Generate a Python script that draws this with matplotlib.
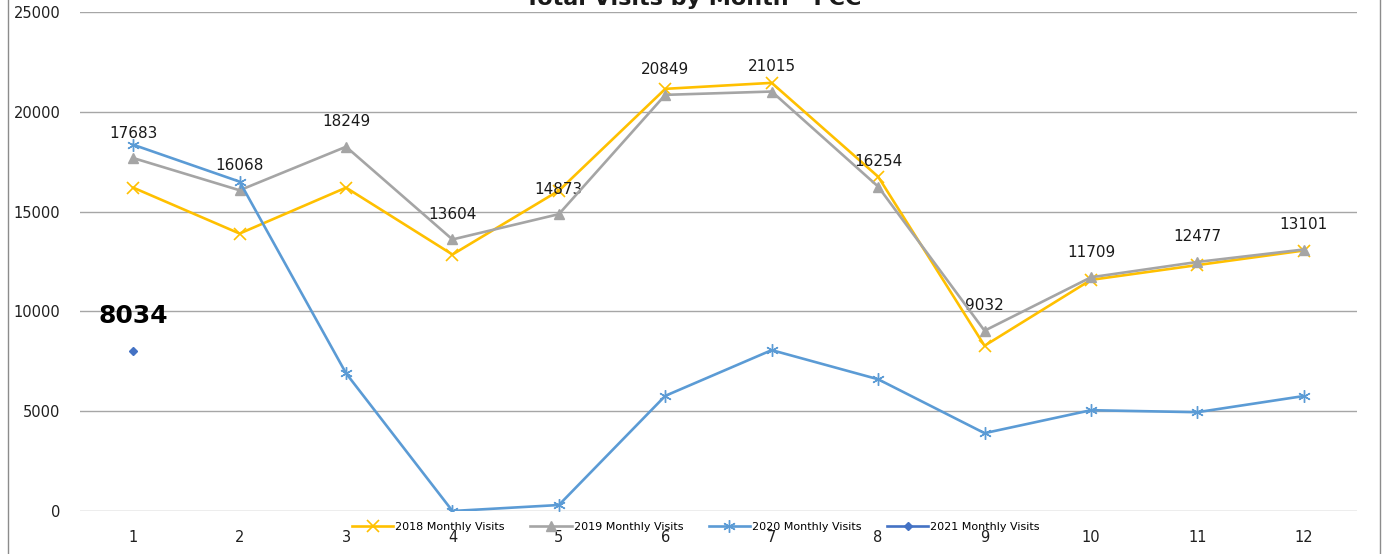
import matplotlib.pyplot as plt
from matplotlib.lines import Line2D

# data
months = [1, 2, 3, 4, 5, 6, 7, 8, 9, 10, 11, 12]
visits_2018 = [16200, 13900, 16200, 12850, 16050, 21150, 21450, 16750, 8280, 11580, 12320, 13050]
visits_2019 = [17683, 16068, 18249, 13604, 14873, 20849, 21015, 16254, 9032, 11709, 12477, 13101]
visits_2020 = [18350, 16500, 6900, 0, 300, 5770, 8060, 6600, 3900, 5050, 4950, 5760]
months_2021 = [1]
visits_2021 = [8034]

yticks = [0, 5000, 10000, 15000, 20000, 25000]

fig = plt.figure(figsize=(13.86, 5.54), dpi=100)
ax = fig.add_axes([80 / 1386, 1 - 511 / 554, (1357 - 80) / 1386, (511 - 12) / 554])

ax.plot(months, visits_2018, color='#FFC000', lw=1.9, marker='x', ms=8, mew=1.2,
        label='2018 Monthly Visits', zorder=3)
ax.plot(months, visits_2019, color='#A5A5A5', lw=1.9, marker='^', ms=7,
        label='2019 Monthly Visits', zorder=4)
ax.plot(months, visits_2020, color='#5B9BD5', lw=1.9, marker=(6, 2, 0), ms=9, mew=1.0,
        label='2020 Monthly Visits', zorder=5)
ax.plot(months_2021, visits_2021, color='#4472C4', lw=1.9, marker='D', ms=4,
        label='2021 Monthly Visits', zorder=6)

for m, v in zip(months, visits_2019):
    ax.annotate(str(v), (m, v), xytext=(0, 18), textcoords='offset points',
                ha='center', va='center', fontsize=11, color='#1a1a1a')
for m, v in zip(months_2021, visits_2021):
    ax.annotate(str(v), (m, v), xytext=(0, 25), textcoords='offset points',
                ha='center', va='center', fontsize=18, weight='bold', color='black')

ax.set_xlim(0.5, 12.5)
ax.set_ylim(0, 25000)
ax.set_xticks(months)
ax.set_yticks(yticks)
ax.tick_params(axis='both', length=0, labelsize=10.5, colors='#1f1f1f')
ax.tick_params(axis='y', pad=14)
ax.tick_params(axis='x', pad=14)
ax.grid(axis='y', color='#A6A6A6', lw=1)
ax.set_axisbelow(True)
for s in ax.spines.values():
    s.set_visible(False)

leg = ax.legend(loc='center', bbox_to_anchor=(696 / 1386, 1 - 527 / 554),
                bbox_transform=fig.transFigure, ncol=4, frameon=False,
                handlelength=3.7, handletextpad=0.2, columnspacing=2.3,
                prop={'family': ['Liberation Sans Narrow', 'DejaVu Sans'], 'size': 8})

fig.text(0.5, 1 - 5 / 554, 'Total Visits by Month - FCC', ha='center', va='baseline',
         fontsize=16, weight='bold', color='#1a1a1a')

# chart border edges visible on the sides
fig.add_artist(Line2D([7.5 / 1386, 7.5 / 1386], [0, 1], color='#8c8c8c', lw=1))
fig.add_artist(Line2D([1380 / 1386, 1380 / 1386], [0, 1], color='#8c8c8c', lw=1))

fig.savefig('out.png', dpi=100)
